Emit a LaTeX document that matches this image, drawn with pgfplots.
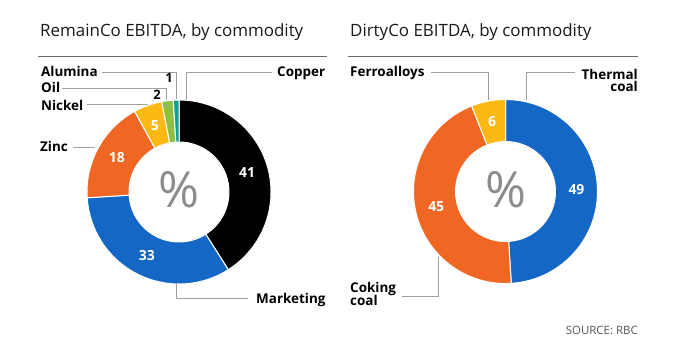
\documentclass[border=0pt]{standalone}
\usepackage{pgfplots}
\pgfplotsset{compat=1.18}
\usepackage{fontspec}
\setmainfont{Open Sans}
\definecolor{cblack}{HTML}{000000}
\definecolor{cblue}{HTML}{1467C4}
\definecolor{corange}{HTML}{F06623}
\definecolor{cyellow}{HTML}{FDB813}
\definecolor{cgreen}{HTML}{8DC041}
\definecolor{cteal}{HTML}{16A09A}
\definecolor{leadgray}{HTML}{A0A0A0}
\definecolor{rulegray}{HTML}{6B6B6B}
\definecolor{pctgray}{HTML}{8C8C8C}
\definecolor{srcgray}{HTML}{555555}
\tikzset{
  lab/.style={font=\fontsize{13.5}{13.5}\selectfont\bfseries, inner sep=0pt, text=black},
  num/.style={font=\fontsize{14}{14}\selectfont\bfseries, inner sep=0pt, text=white},
  onum/.style={font=\fontsize{13}{13}\selectfont\bfseries, inner sep=0pt, text=black},
  lead/.style={draw=leadgray, line width=0.9bp},
  ttl/.style={font=\fontsize{17}{17}\selectfont, inner sep=0pt, text=black!90},
  pct/.style={font=\fontsize{50}{50}\selectfont, inner sep=0pt, text=pctgray}
}
\begin{document}
\begin{tikzpicture}[x=1bp,y=1bp]
\path[use as bounding box] (0,0) rectangle (690,360);
\begin{axis}[at={(0,0)}, anchor=south west, scale only axis,
  width=690bp, height=360bp, xmin=0, xmax=690, ymin=0, ymax=360,
  hide axis, clip=false]
% ---------- RemainCo ----------
\gdef\cum{0}
\foreach \v/\col in {41/cblack,33/cblue,18/corange,5/cyellow,2/cgreen,1/cteal}{%
  \pgfmathsetmacro\sa{90-3.6*\cum}%
  \pgfmathsetmacro\ea{90-3.6*(\cum+\v)}%
  \pgfmathsetmacro\ma{90-3.6*(\cum+\v/2)}%
  \edef\tmp{\noexpand\fill[\col,draw=white,line width=1bp] ([shift={(\sa:92bp)}]axis cs:179,168) arc[start angle=\sa,end angle=\ea,radius=92bp] -- ([shift={(\ea:50bp)}]axis cs:179,168) arc[start angle=\ea,end angle=\sa,radius=50bp] -- cycle;}%
  \tmp
  \ifdim\v pt>4pt \edef\tmp{\noexpand\node[num] at ([shift={(\ma:71bp)}]axis cs:179,168) {\v};}\tmp\fi
  \pgfmathparse{\cum+\v}\xdef\cum{\pgfmathresult}%
}
\node[pct] at (axis cs:179,170) {\%};
% ---------- DirtyCo ----------
\gdef\cum{0}
\foreach \v/\col in {49/cblue,45/corange,6/cyellow}{%
  \pgfmathsetmacro\sa{90-3.6*\cum}%
  \pgfmathsetmacro\ea{90-3.6*(\cum+\v)}%
  \pgfmathsetmacro\ma{90-3.6*(\cum+\v/2)}%
  \edef\tmp{\noexpand\fill[\col,draw=white,line width=1bp] ([shift={(\sa:92bp)}]axis cs:505.5,168.5) arc[start angle=\sa,end angle=\ea,radius=92bp] -- ([shift={(\ea:50bp)}]axis cs:505.5,168.5) arc[start angle=\ea,end angle=\sa,radius=50bp] -- cycle;}%
  \tmp
  \ifdim\v pt>4pt \edef\tmp{\noexpand\node[num] at ([shift={(\ma:71bp)}]axis cs:505.5,168.5) {\v};}\tmp\fi
  \pgfmathparse{\cum+\v}\xdef\cum{\pgfmathresult}%
}
\node[pct] at (axis cs:505.5,170.5) {\%};
% ---------- titles and rules ----------
\node[ttl, anchor=base west] at (axis cs:40,323.3) {RemainCo EBITDA, by commodity};
\node[ttl, anchor=base west] at (axis cs:350,323.3) {DirtyCo EBITDA, by commodity};
\draw[rulegray, line width=1bp] (axis cs:38,303) -- (axis cs:327,303);
\draw[rulegray, line width=1bp] (axis cs:348,303) -- (axis cs:638,303);
% ---------- leaders left ----------
\draw[lead] (axis cs:102,288) -- (axis cs:176,288) -- (axis cs:176,261);
\draw[lead] (axis cs:62,272) -- (axis cs:166,272) -- (axis cs:166,260);
\draw[lead] (axis cs:87,256) -- (axis cs:148,256);
\draw[lead] (axis cs:73,213) -- (axis cs:95,213);
\draw[lead] (axis cs:186,260) -- (axis cs:186,288) -- (axis cs:272,288);
\draw[lead] (axis cs:176,77) -- (axis cs:176,62) -- (axis cs:248,62);
% ---------- leaders right ----------
\draw[lead] (axis cs:431,288) -- (axis cs:488,288) -- (axis cs:488,260);
\draw[lead] (axis cs:575,288) -- (axis cs:526,288) -- (axis cs:526,260);
\draw[lead] (axis cs:402,64) -- (axis cs:438,64) -- (axis cs:438,103);
% ---------- labels left ----------
\node[lab, anchor=base west] at (axis cs:41,283.3) {Alumina};
\node[lab, anchor=base west] at (axis cs:41,267.7) {Oil};
\node[lab, anchor=base west] at (axis cs:41,250) {Nickel};
\node[lab, anchor=base west] at (axis cs:40,208.3) {Zinc};
\node[lab, anchor=base west] at (axis cs:277,284) {Copper};
\node[lab, anchor=base west] at (axis cs:256,56.7) {Marketing};
\node[onum] at (axis cs:169,282) {1};
\node[onum] at (axis cs:157,265) {2};
% ---------- labels right ----------
\node[lab, anchor=base west] at (axis cs:350,283.3) {Ferroalloys};
\node[lab, anchor=base east] at (axis cs:638,281) {Thermal};
\node[lab, anchor=base east] at (axis cs:638,269) {coal};
\node[lab, anchor=base west] at (axis cs:350,67.7) {Coking};
\node[lab, anchor=base west] at (axis cs:350,55) {coal};
\node[font=\fontsize{11.5}{11.5}\selectfont, inner sep=0pt, text=srcgray, anchor=base east] at (axis cs:638,26) {SOURCE: RBC};
\end{axis}
\end{tikzpicture}
\end{document}
